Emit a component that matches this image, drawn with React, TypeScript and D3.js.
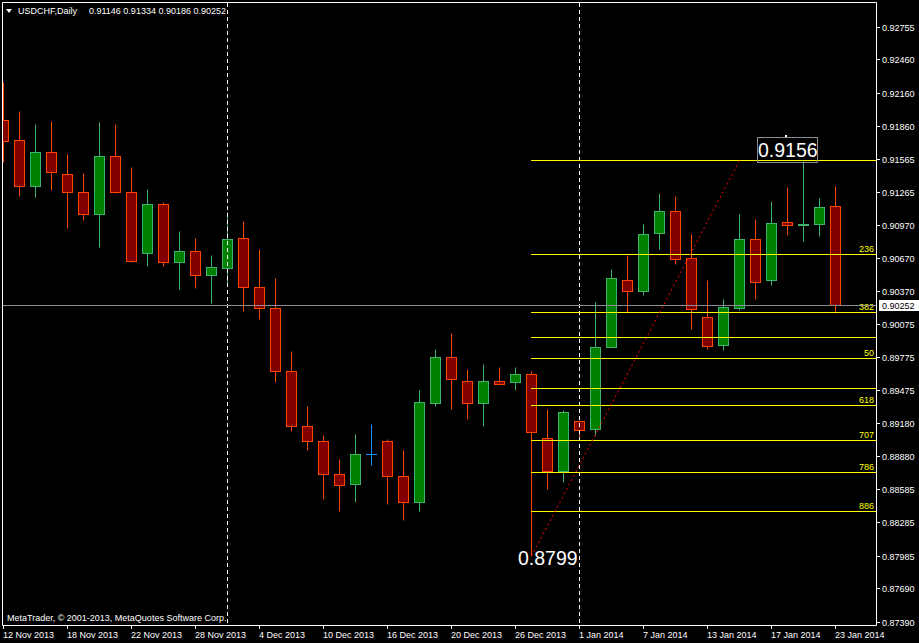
import React from "react";
import * as d3 from "d3";

const W = 919;
const H = 643;

// Daily OHLC, 12 Nov 2013 .. 23 Jan 2014 (53 bars)
const opens = [
  0.91927, 0.91747, 0.91328, 0.91638, 0.9144, 0.91278, 0.91079, 0.91602, 0.91278, 0.90724,
  0.91169, 0.90643, 0.90745, 0.90529, 0.90592, 0.90863, 0.90421, 0.90231, 0.89663, 0.89167,
  0.89032, 0.88734, 0.88644, 0.88914, 0.89032, 0.88716, 0.88481, 0.89374, 0.89789, 0.89573,
  0.89374, 0.89573, 0.89564, 0.89636, 0.89059, 0.88761, 0.89212, 0.8914, 0.8988, 0.90484,
  0.90385, 0.90908, 0.91106, 0.90682, 0.9015, 0.89898, 0.90231, 0.90854, 0.90484, 0.91007,
  0.90982, 0.90989, 0.91146,
];
const highs = [
  0.92272, 0.92002, 0.91885, 0.91912, 0.91614, 0.91443, 0.91903, 0.91885, 0.91497, 0.91307,
  0.91187, 0.9092, 0.90865, 0.90712, 0.91097, 0.9101, 0.90766, 0.90496, 0.89846, 0.89341,
  0.89088, 0.88863, 0.89097, 0.89179, 0.89052, 0.88953, 0.89494, 0.89864, 0.90008, 0.89675,
  0.8972, 0.89693, 0.89693, 0.89657, 0.8932, 0.89305, 0.89215, 0.90288, 0.90577, 0.90703,
  0.90989, 0.91271, 0.91244, 0.90899, 0.90478, 0.90312, 0.91079, 0.91034, 0.91199, 0.91323,
  0.91558, 0.91224, 0.91334,
];
const lows = [
  0.91545, 0.91238, 0.91229, 0.91292, 0.90949, 0.91021, 0.90778, 0.91269, 0.90643, 0.90607,
  0.90607, 0.90399, 0.90408, 0.90273, 0.90426, 0.90201, 0.90128, 0.8956, 0.89118, 0.88947,
  0.88505, 0.88397, 0.88478, 0.88812, 0.8846, 0.88315, 0.88397, 0.89344, 0.89317, 0.89226,
  0.89163, 0.89545, 0.89488, 0.8799, 0.88595, 0.88658, 0.89073, 0.89088, 0.89875, 0.90192,
  0.90345, 0.9076, 0.90625, 0.90038, 0.89864, 0.89855, 0.90213, 0.90309, 0.90435, 0.90886,
  0.90832, 0.90877, 0.90186,
];
const closes = [
  0.91734, 0.91328, 0.91638, 0.91458, 0.91278, 0.91079, 0.91602, 0.91278, 0.90652, 0.91169,
  0.90643, 0.90745, 0.90529, 0.90601, 0.90854, 0.90421, 0.90231, 0.89663, 0.89167, 0.89028,
  0.88734, 0.88635, 0.88914, 0.88914, 0.88716, 0.88481, 0.89383, 0.89789, 0.89591, 0.89374,
  0.89573, 0.89546, 0.89636, 0.89111, 0.88761, 0.89293, 0.89131, 0.8988, 0.90502, 0.90385,
  0.90899, 0.91106, 0.90673, 0.90222, 0.89889, 0.9024, 0.90854, 0.90466, 0.90998, 0.9098,
  0.90984, 0.91142, 0.90252,
];

const dateTickLabels = [
  "12 Nov 2013", "18 Nov 2013", "22 Nov 2013", "28 Nov 2013", "4 Dec 2013", "10 Dec 2013",
  "16 Dec 2013", "20 Dec 2013", "26 Dec 2013", "1 Jan 2014", "7 Jan 2014", "13 Jan 2014",
  "17 Jan 2014", "23 Jan 2014",
];
const dateTickIndex = [0, 4, 8, 12, 16, 20, 24, 28, 32, 36, 40, 44, 48, 52];
const monthSeparators = [14, 36];

const priceTicks = [
  0.92755, 0.9246, 0.9216, 0.9186, 0.91565, 0.91265, 0.9097, 0.9067, 0.9037, 0.90075,
  0.89775, 0.89475, 0.8918, 0.8888, 0.88585, 0.88285, 0.87985, 0.8769, 0.8739,
];

const header = "USDCHF,Daily";
const headerValues = "0.91146 0.91334 0.90186 0.90252";
const lastPrice = 0.90252;

// Fibonacci retracement
const fibLow = 0.8799;
const fibHigh = 0.9156;
const fibLowBar = 33;
const fibHighBar = 46;
const fibLevels = [0, 0.236, 0.382, 0.447, 0.5, 0.576, 0.618, 0.707, 0.786, 0.886];
const fibLabels = ["", "236", "382", "", "50", "", "618", "707", "786", "886"];

const FONT = "'Liberation Sans', Arial, sans-serif";
const BULL_FILL = "#008000";
const BULL_LINE = "#3cb371";
const BEAR_FILL = "#800000";
const BEAR_LINE = "#ff4500";
const DOJI = "#1e90ff";

export default function App() {
  const x = d3.scaleLinear().domain([0, 52]).range([3, 835]);
  const y = d3.scaleLinear().domain([0.8739, 0.92755]).range([622.8, 28.0]);
  const px = (v: number) => Math.round(v) + 0.5;

  const left = 2.5, top = 2.5, right = 876.5, bottom = 625.5;

  const candles = opens.map((o, i) => {
    const c = closes[i];
    const h = highs[i];
    const l = lows[i];
    const cx = px(x(i));
    const bull = c > o;
    const doji = c === o;
    const line = doji ? DOJI : bull ? BULL_LINE : BEAR_LINE;
    const fill = bull ? BULL_FILL : BEAR_FILL;
    const yt = px(y(Math.max(o, c)));
    const yb = px(y(Math.min(o, c)));
    return (
      <g key={i}>
        <line x1={cx} x2={cx} y1={px(y(h))} y2={px(y(l))} stroke={line} strokeWidth={1} />
        {doji ? (
          <line x1={cx - 5.5} x2={cx + 5.5} y1={yt} y2={yt} stroke={line} strokeWidth={1} />
        ) : (
          <rect x={cx - 5} y={yt} width={10} height={Math.max(yb - yt, 1)} fill={fill} stroke={line} strokeWidth={1} />
        )}
      </g>
    );
  });

  const fibRange = fibHigh - fibLow;
  const fibX1 = px(x(fibLowBar)) - 0.5;

  return (
    <div style={{ position: "fixed", left: 0, top: 0, width: W, height: H, background: "#000" }}>
      <svg width={W} height={H} style={{ display: "block" }} fontFamily={FONT}>
        <rect x={0} y={0} width={W} height={H} fill="#000" />
        <defs>
          <clipPath id="plot">
            <rect x={3} y={3} width={873} height={622} />
          </clipPath>
        </defs>

        <g clipPath="url(#plot)">
          {candles}

          {/* month separators */}
          {monthSeparators.map((i) => (
            <line key={i} x1={px(x(i))} x2={px(x(i))} y1={3} y2={625} stroke="#fff" strokeDasharray="4,3" />
          ))}

          {/* fib levels */}
          {fibLevels.map((lv, k) => {
            const yy = px(y(fibHigh - lv * fibRange));
            return (
              <g key={k}>
                <line x1={fibX1} x2={876} y1={yy} y2={yy} stroke="#ffff00" strokeWidth={1} />
                {fibLabels[k] && (
                  <text x={874} y={yy - 3} fill="#ffff00" fontSize={9} textAnchor="end">
                    {fibLabels[k]}
                  </text>
                )}
              </g>
            );
          })}

          {/* current price line */}
          <line x1={3} x2={876} y1={px(y(lastPrice))} y2={px(y(lastPrice))} stroke="#8c8c94" strokeWidth={1} />

          {/* fib trend line */}
          <line
            x1={px(x(fibLowBar))}
            y1={y(fibLow)}
            x2={px(x(fibHighBar))}
            y2={y(fibHigh)}
            stroke="#ff0000"
            strokeWidth={1}
            strokeDasharray="2,3"
          />

          {/* price labels */}
          <rect x={757.5} y={137.5} width={60} height={25} fill="none" stroke="#8c8c94" />
          <text x={758} y={156.7} fill="#fff" fontSize={19.5}>
            {fibHigh.toFixed(4)}
          </text>
          <rect x={785} y={135} width={2} height={2} fill="#fff" />
          <text x={518} y={565} fill="#fff" fontSize={19.5}>
            {fibLow.toFixed(4)}
          </text>

          {/* header */}
          <path d="M6,9 L12,9 L9,13 Z" fill="#fff" />
          <text x={18} y={14} fill="#fff" fontSize={9}>
            {header}
          </text>
          <text x={89} y={14} fill="#fff" fontSize={9}>
            {headerValues}
          </text>
          <text x={7} y={620.5} fill="#fff" fontSize={9}>
            MetaTrader, © 2001-2013, MetaQuotes Software Corp.
          </text>
        </g>

        {/* frame */}
        <path d={`M${left},${top} H${right} V${bottom} H${left} Z`} fill="none" stroke="#fff" strokeWidth={1} />

        {/* price axis */}
        {priceTicks.map((t) => {
          const ty = Math.round(y(t) - 1.3) + 0.5;
          return (
            <g key={t}>
              <line x1={877} x2={880} y1={ty} y2={ty} stroke="#fff" />
              <text x={882} y={ty + 3.3} fill="#fff" fontSize={9}>
                {t.toFixed(5)}
              </text>
            </g>
          );
        })}
        <rect x={879} y={px(y(lastPrice)) - 5.5} width={40} height={11} fill="#fff" />
        <text x={882} y={px(y(lastPrice)) + 3.3} fill="#000" fontSize={9}>
          {lastPrice.toFixed(5)}
        </text>

        {/* date axis */}
        {dateTickIndex.map((i, k) => {
          const tx = px(x(i));
          return (
            <g key={i}>
              <line x1={tx} x2={tx} y1={626} y2={629} stroke="#fff" />
              <text x={tx - 0.5} y={637.5} fill="#fff" fontSize={9}>
                {dateTickLabels[k]}
              </text>
            </g>
          );
        })}
      </svg>
    </div>
  );
}
